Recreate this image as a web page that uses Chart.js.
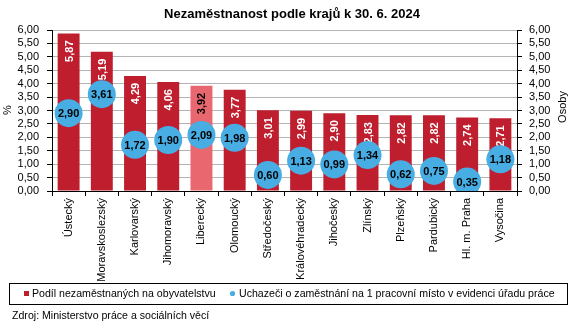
<!DOCTYPE html>
<html lang="cs">
<head>
<meta charset="utf-8">
<title>Nezaměstnanost podle krajů k 30. 6. 2024</title>
<script src="https://cdn.jsdelivr.net/npm/chart.js@4.4.1/dist/chart.umd.min.js"></script>
<style>
  html, body { margin: 0; padding: 0; background: #fff; }
  #wrap { width: 573px; height: 326px; }
</style>
</head>
<body>
<div id="wrap"><canvas id="chart" width="573" height="326"></canvas></div>
<script>
// Data - MPSV, stav k 30. 6. 2024
const kraje = ['Ústecký', 'Moravskoslezský', 'Karlovarský', 'Jihomoravský', 'Liberecký',
  'Olomoucký', 'Středočeský', 'Královéhradecký', 'Jihočeský', 'Zlínský', 'Plzeňský',
  'Pardubický', 'Hl. m. Praha', 'Vysočina'];
const podil = [5.87, 5.19, 4.29, 4.06, 3.92, 3.77, 3.01, 2.99, 2.90, 2.83, 2.82, 2.82, 2.74, 2.71];
const uchazeci = [2.90, 3.61, 1.72, 1.90, 2.09, 1.98, 0.60, 1.13, 0.99, 1.34, 0.62, 0.75, 0.35, 1.18];
const osaMin = 0;
const osaMax = 6;
const osaKrok = 0.5;
const zvyrazneny = 'Liberecký';

const FONT = '"Liberation Sans", Arial, sans-serif';
const CERVENA = '#be1e2d';
const RUZOVA = '#e9676e';
const MODRA = '#47ade3';

// 2 desetinna mista, desetinna carka
function fmt(v) {
    return v.toFixed(2).replace('.', ',');
}

const popisky = {
    id: 'popisky',
    afterDatasetDraw(chart, args) {
        const ctx = chart.ctx;
        const meta = args.meta;
        const data = chart.data.datasets[args.index].data;
        const labels = chart.data.labels;
        ctx.save();
        ctx.font = 'bold 11px ' + FONT;
        if (meta.type === 'bar') {
            // svisle popisky uvnitr sloupcu (zvyrazneny kraj cerne)
            ctx.textAlign = 'right';
            ctx.textBaseline = 'middle';
            meta.data.forEach((bar, i) => {
                ctx.save();
                ctx.fillStyle = labels[i] === zvyrazneny ? '#000' : '#fff';
                ctx.translate(bar.x + 1, bar.y + 7);
                ctx.rotate(-Math.PI / 2);
                ctx.fillText(fmt(data[i]), 0, 0);
                ctx.restore();
            });
        } else {
            ctx.fillStyle = '#000';
            ctx.textAlign = 'center';
            ctx.textBaseline = 'middle';
            meta.data.forEach((pt, i) => {
                ctx.fillText(fmt(data[i]), pt.x, pt.y + 1);
            });
        }
        ctx.restore();
    },
    afterDraw(chart) {
        const ctx = chart.ctx;
        ctx.save();
        ctx.fillStyle = '#000';

        // titulek
        ctx.font = 'bold 13px ' + FONT;
        ctx.textAlign = 'center';
        ctx.textBaseline = 'middle';
        ctx.fillText('Nezaměstnanost podle krajů k 30. 6. 2024', 292, 14);

        // nazvy os
        ctx.font = '11px ' + FONT;
        [['%', 8, 110], ['Osoby', 563, 107]].forEach(([t, x, y]) => {
            ctx.save();
            ctx.translate(x, y);
            ctx.rotate(-Math.PI / 2);
            ctx.fillText(t, 0, 0);
            ctx.restore();
        });

        // legenda v ramecku
        ctx.font = '10.6px ' + FONT;
        ctx.strokeStyle = '#000';
        ctx.lineWidth = 1;
        ctx.strokeRect(9.5, 283.5, 558, 21);
        const ds = chart.data.datasets;
        ctx.textAlign = 'left';
        ctx.fillStyle = CERVENA;
        ctx.fillRect(24, 291, 5, 5);
        ctx.fillStyle = '#000';
        ctx.fillText(ds[0].label, 32, 294);
        ctx.fillStyle = MODRA;
        ctx.beginPath();
        ctx.arc(232.5, 293.5, 2.6, 0, Math.PI * 2);
        ctx.fill();
        ctx.fillStyle = '#000';
        ctx.fillText(ds[1].label, 239, 294);

        // zdroj
        ctx.fillText('Zdroj: Ministerstvo práce a sociálních věcí', 12, 316);
        ctx.restore();
    }
};

Chart.defaults.font.family = FONT;
Chart.defaults.font.size = 11;
Chart.defaults.color = '#000';

const osaTicks = {
    stepSize: osaKrok,
    autoSkip: false,
    maxTicksLimit: 20,
    font: { size: 11, lineHeight: 1 },
    callback: v => fmt(v)
};

new Chart(document.getElementById('chart'), {
    type: 'bar',
    data: {
        labels: kraje,
        datasets: [{
            label: 'Podíl nezaměstnaných na obyvatelstvu',
            data: podil,
            backgroundColor: kraje.map(k => k === zvyrazneny ? RUZOVA : CERVENA),
            barPercentage: 1,
            categoryPercentage: 0.66,
            order: 2,
            yAxisID: 'y'
        }, {
            type: 'line',
            label: 'Uchazeči o zaměstnání na 1 pracovní místo v evidenci úřadu práce',
            data: uchazeci,
            showLine: false,
            pointRadius: 14,
            pointHoverRadius: 14,
            pointBackgroundColor: MODRA,
            pointBorderWidth: 0,
            clip: 0,
            order: 1,
            yAxisID: 'y2'
        }]
    },
    options: {
        responsive: false,
        animation: false,
        events: [],
        layout: { padding: { top: 30, bottom: 43, left: 0, right: 0 } },
        scales: {
            x: {
                grid: { display: true, drawOnChartArea: false, tickLength: 5, tickColor: '#000', offset: true },
                border: { color: '#000' },
                ticks: { minRotation: 90, maxRotation: 90, autoSkip: false, padding: 2 },
                afterFit(s) { s.height = 92; }
            },
            y: {
                position: 'left',
                min: osaMin,
                max: osaMax,
                ticks: Object.assign({ padding: 8 }, osaTicks),
                grid: { color: '#b4b4b4', tickColor: '#000', tickLength: 5 },
                border: { color: '#000' },
                afterFit(s) { s.width = 52; }
            },
            y2: {
                position: 'right',
                min: osaMin,
                max: osaMax,
                ticks: Object.assign({ padding: 7 }, osaTicks),
                grid: { drawOnChartArea: false, tickColor: '#000', tickLength: 5 },
                border: { color: '#000' },
                afterFit(s) { s.width = 56; }
            }
        },
        plugins: {
            legend: { display: false },
            title: { display: false },
            tooltip: { enabled: false }
        }
    },
    plugins: [popisky]
});
</script>
</body>
</html>
